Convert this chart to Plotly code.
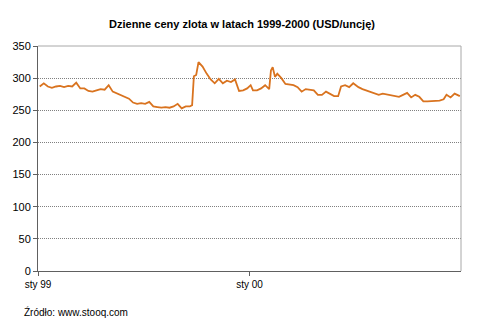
import plotly.graph_objects as go

dates = [
    "1999-01-04", "1999-01-11", "1999-01-18", "1999-01-25", "1999-02-01", "1999-02-08",
    "1999-02-15", "1999-02-22", "1999-03-01", "1999-03-08", "1999-03-15", "1999-03-22",
    "1999-03-29", "1999-04-05", "1999-04-12", "1999-04-19", "1999-04-26", "1999-05-03",
    "1999-05-10", "1999-05-17", "1999-05-24", "1999-05-31", "1999-06-07", "1999-06-14",
    "1999-06-21", "1999-06-28", "1999-07-05", "1999-07-12", "1999-07-19", "1999-07-26",
    "1999-08-02", "1999-08-09", "1999-08-16", "1999-08-23", "1999-08-30", "1999-09-06",
    "1999-09-13", "1999-09-20", "1999-09-24", "1999-09-27", "1999-10-01", "1999-10-05",
    "1999-10-12", "1999-10-19", "1999-10-26", "1999-11-02", "1999-11-09", "1999-11-16",
    "1999-11-23", "1999-11-30", "1999-12-07", "1999-12-14", "1999-12-21", "1999-12-28",
    "2000-01-03", "2000-01-07", "2000-01-14", "2000-01-21", "2000-01-28", "2000-02-04",
    "2000-02-07", "2000-02-10", "2000-02-14", "2000-02-18", "2000-02-25", "2000-03-03",
    "2000-03-10", "2000-03-17", "2000-03-24", "2000-03-31", "2000-04-07", "2000-04-14",
    "2000-04-21", "2000-04-28", "2000-05-05", "2000-05-12", "2000-05-19", "2000-05-26",
    "2000-06-02", "2000-06-07", "2000-06-14", "2000-06-21", "2000-06-28", "2000-07-07",
    "2000-07-14", "2000-07-21", "2000-07-28", "2000-08-04", "2000-08-11", "2000-08-18",
    "2000-08-25", "2000-09-01", "2000-09-08", "2000-09-15", "2000-09-22", "2000-09-29",
    "2000-10-06", "2000-10-13", "2000-10-20", "2000-10-27", "2000-11-03", "2000-11-10",
    "2000-11-17", "2000-11-24", "2000-12-01", "2000-12-06", "2000-12-13", "2000-12-20",
    "2000-12-29",
]
prices = [
    287, 292, 287, 285, 287, 288,
    286, 288, 287, 293, 284, 284,
    280, 279, 281, 283, 282, 289,
    279, 276, 273, 271, 268, 262,
    260, 261, 260, 263, 256, 255,
    254, 255, 254, 256, 260, 253,
    256, 256, 258, 303, 305, 325,
    318, 307, 298, 292, 299, 292,
    296, 294, 298, 280, 281, 284,
    289, 281, 281, 284, 289, 283,
    312, 317, 302, 307, 300, 291,
    290, 289, 286, 279, 283, 282,
    281, 274, 274, 279, 276, 272,
    272, 287, 289, 286, 292, 286,
    283, 281, 279, 276, 274, 276,
    275, 274, 272, 271, 274, 277,
    270, 274, 271, 264, 264, 264,
    264, 265, 267, 274, 270, 276,
    272,
]
tick_vals = ["1999-01-01", "2000-01-01"]
tick_text = ["sty 99", "sty 00"]
title_text = "Dzienne ceny zlota w latach 1999-2000 (USD/uncję)"
source_text = "Źródło: www.stooq.com"

FONT = "Liberation Sans, Arial, sans-serif"

fig = go.Figure()
fig.add_trace(go.Scatter(
    x=dates, y=prices, mode="lines",
    line=dict(color="#D9731F", width=1.8),
    showlegend=False, hoverinfo="x+y",
))

fig.update_layout(
    width=484, height=329,
    margin=dict(l=34, r=23, t=46, b=58),
    paper_bgcolor="white", plot_bgcolor="white",
    font=dict(family=FONT, size=11, color="black"),
    title=dict(text="<b>" + title_text + "</b>", x=0.5, xanchor="center",
               y=1 - 24 / 329, yanchor="middle",
               font=dict(family=FONT, size=11, color="black")),
    xaxis=dict(
        type="date", range=["1999-01-01", "2000-12-31"],
        tickvals=tick_vals, ticktext=tick_text,
        showgrid=False, zeroline=False,
        showline=True, linecolor="#606060", linewidth=1,
        ticks="outside", ticklen=4, tickcolor="#606060",
        tickfont=dict(size=10, family=FONT),
    ),
    yaxis=dict(
        range=[0, 350], dtick=50,
        showgrid=True, gridcolor="#808080", griddash="1px,1px", gridwidth=1,
        zeroline=False,
        showline=True, linecolor="#606060", linewidth=1,
        ticks="outside", ticklen=4, tickcolor="#606060",
        tickfont=dict(size=11, family=FONT),
    ),
    shapes=[
        dict(type="line", xref="paper", yref="paper", x0=0, x1=1, y0=1, y1=1,
             line=dict(color="#a8a8a8", width=1)),
        dict(type="line", xref="paper", yref="paper", x0=1, x1=1, y0=0, y1=1,
             line=dict(color="#a8a8a8", width=1)),
    ],
    annotations=[
        dict(text=source_text, xref="paper", yref="paper",
             x=-16 / 427, y=-41 / 225, xanchor="left", yanchor="middle",
             showarrow=False, font=dict(size=10, family=FONT, color="black")),
    ],
)

fig.write_html("out.html")
